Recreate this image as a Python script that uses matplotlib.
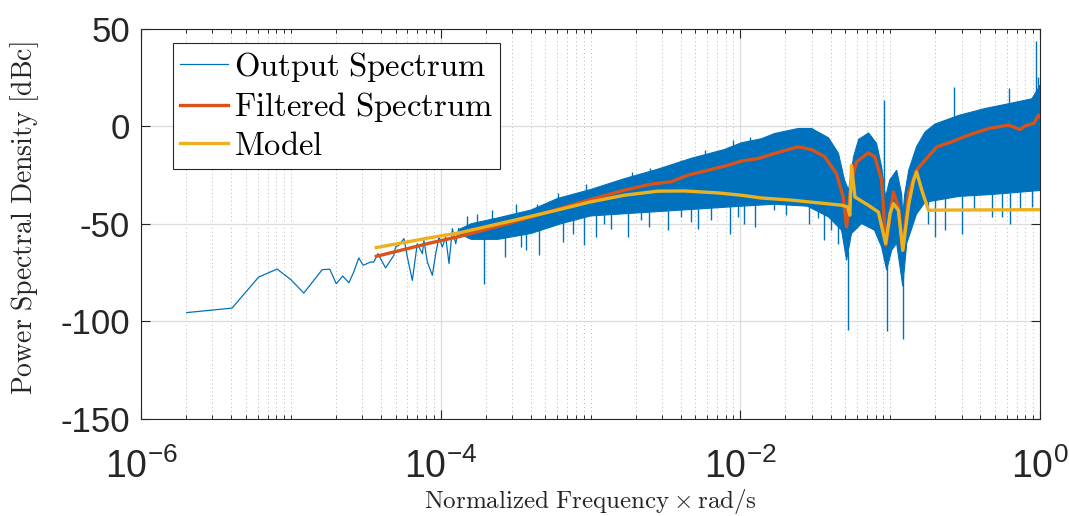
import numpy as np
import matplotlib
matplotlib.use("Agg")
import matplotlib.pyplot as plt
from matplotlib.ticker import FixedLocator, FuncFormatter, NullFormatter

plt.rcParams['font.family'] = ['Liberation Sans', 'DejaVu Sans']
plt.rcParams['mathtext.fontset'] = 'cm'

# ---- Output spectrum, sparse low-frequency bins ----
out_freq = [2.02e-6, 4.05e-6, 6.1e-6, 8.1e-6, 1.0e-5, 1.22e-5, 1.62e-5, 1.82e-5,
            2.01e-5, 2.22e-5, 2.44e-5, 2.63e-5, 2.84e-5, 3.04e-5, 3.40e-5, 3.58e-5,
            3.81e-5, 4.29e-5, 4.87e-5, 5.0e-5, 5.26e-5, 5.69e-5, 5.99e-5, 6.47e-5,
            6.98e-5, 7.55e-5, 7.73e-5, 8.15e-5, 8.8e-5, 9.27e-5, 9.75e-5, 1.026e-4,
            1.08e-4, 1.137e-4, 1.197e-4, 1.26e-4, 1.32e-4]
out_db = [-95.5, -93.2, -77.3, -73.2, -78.6, -85.5, -73.5, -73.3,
          -80.7, -76.8, -80.2, -74.7, -67.5, -71.3, -69.6, -69.6,
          -65.3, -72.6, -66.2, -61.9, -61.0, -57.6, -67.0, -79.0,
          -60.2, -65.3, -58.5, -69.6, -76.4, -65.3, -56.8, -61.9,
          -56.8, -70.4, -52.5, -60.2, -52.5]

# ---- Output spectrum, dense band: upper and lower edges ----
band_hi_freq = [1.32e-4, 1.6e-4, 2.41e-4, 4.0e-4, 6.06e-4, 1.0e-3, 1.67e-3, 2.83e-3,
                4.70e-3, 7.82e-3, 1.02e-2, 1.38e-2, 1.69e-2, 2.44e-2, 2.99e-2, 3.88e-2,
                4.52e-2, 4.96e-2, 5.28e-2, 5.70e-2, 6.16e-2, 7.18e-2, 8.12e-2, 8.77e-2,
                9.33e-2, 9.92e-2, 0.1105, 0.1194, 0.1214, 0.125, 0.133, 0.150,
                0.171, 0.1985, 0.287, 0.4286, 0.620, 0.884, 0.985, 1.0]
band_hi_db = [-53.0, -50.0, -47.0, -43.0, -37.0, -32.5, -27.0, -22.0,
              -16.5, -12.0, -8.5, -6.5, -3.8, -1.2, -1.2, -6.0,
              -14.0, -27.7, -32.8, -15.7, -6.8, -3.5, -8.9, -20.9,
              -36.3, -27.7, -22.6, -35.0, -46.0, -35.0, -22.6, -10.5,
              -3.0, 1.0, 5.5, 9.0, 11.5, 14.0, 20.0, 21.0]

band_lo_freq = [1.32e-4, 1.6e-4, 2.41e-4, 4.0e-4, 6.35e-4, 1.0e-3, 1.02e-2, 1.69e-2,
                2.81e-2, 3.88e-2, 4.74e-2, 5.12e-2, 5.52e-2, 6.45e-2, 7.87e-2, 8.77e-2,
                9.48e-2, 0.1023, 0.1105, 0.1214, 0.129, 0.150, 0.171, 0.287,
                0.4775, 0.985, 1.0]
band_lo_db = [-55.0, -58.0, -58.0, -55.0, -50.0, -46.0, -41.0, -40.0,
              -41.0, -46.5, -53.3, -68.7, -55.0, -49.9, -53.3, -61.9,
              -73.8, -63.6, -60.0, -82.0, -60.0, -45.0, -39.0, -36.0,
              -35.0, -33.0, -33.0]

# isolated excursions below the band
spike_dn_freq = [1.95e-4, 2.68e-4, 3.45e-4, 3.70e-4, 4.55e-4, 6.52e-4, 7.6e-4, 9.05e-4,
                 1.088e-3, 1.237e-3, 1.371e-3, 1.773e-3, 2.177e-3, 2.474e-3, 3.284e-3,
                 4.03e-3, 4.70e-3, 5.21e-3, 6.40e-3, 8.48e-3, 9.65e-3, 1.06e-2, 1.246e-2,
                 1.69e-2, 2.03e-2, 2.89e-2, 3.30e-2, 3.59e-2, 4.04e-2, 4.52e-2,
                 5.20e-2, 9.52e-2, 0.1226, 0.180, 0.1985, 0.231, 0.301, 0.365,
                 0.4775, 0.557, 0.633, 0.738, 0.884]
spike_dn_db = [-80.7, -67.0, -61.9, -63.6, -66.2, -59.3, -55.0, -61.0,
               -56.8, -49.9, -52.5, -56.8, -48.2, -51.6, -53.3,
               -46.5, -49.1, -52.5, -48.2, -55.0, -46.5, -49.9, -51.6,
               -43.1, -45.6, -49.9, -47.3, -58.5, -53.3, -60.2,
               -104.6, -104.9, -108.9, -49.9, -56.8, -53.3, -55.0, -43.1,
               -46.5, -46.5, -49.9, -43.1, -41.4]

# isolated excursions above the band
spike_up_freq = [1.5e-4, 1.75e-4, 2.2e-4, 3.2e-4, 4.4e-4, 6.06e-4, 9.3e-4, 1.9e-3,
                 2.5e-3, 4.0e-3, 5.8e-3, 9.0e-3, 1.16e-2, 9.09e-2, 0.268, 0.622,
                 0.940, 0.965]
spike_up_db = [-46.0, -44.8, -43.1, -39.7, -39.7, -34.5, -29.4, -23.4,
               -21.7, -17.4, -12.3, -7.2, -5.5, 13.3, 20.2, 19.3,
               43.7, 25.0]

# ---- Filtered spectrum ----
filt_freq = [3.72e-5, 8.57e-5, 1.36e-4, 3.09e-4, 1.0e-3, 1.68e-3, 2.54e-3, 3.45e-3,
             4.47e-3, 6.08e-3, 8.28e-3, 1.017e-2, 1.31e-2, 1.69e-2, 2.43e-2, 2.99e-2,
             3.66e-2, 4.38e-2, 4.86e-2, 5.12e-2, 5.52e-2, 5.97e-2, 7.14e-2, 7.90e-2,
             8.77e-2, 9.37e-2, 0.105, 0.1135, 0.1214, 0.1325, 0.150, 0.171,
             0.205, 0.258, 0.333, 0.454, 0.618, 0.738, 0.798, 0.908, 0.979, 1.0]
filt_db = [-66.7, -59.8, -56.4, -49.1, -37.6, -32.8, -29.7, -28.5,
           -25.1, -22.6, -20.0, -17.9, -16.6, -14.0, -10.6, -12.0,
           -15.7, -24.3, -36.3, -51.6, -27.7, -18.3, -13.7, -15.7,
           -27.7, -61.0, -33.7, -41.4, -63.6, -34.5, -22.6, -17.4,
           -10.6, -8.0, -4.6, -1.2, 0.5, -1.7, 0.2, 1.4, 5.6, 4.8]

# ---- Model ----
model_freq = [3.72e-5, 8.57e-5, 1.36e-4, 3.09e-4, 6.0e-4, 1.0e-3, 1.68e-3, 2.81e-3,
              4.24e-3, 7.1e-3, 1.017e-2, 1.38e-2, 2.19e-2, 4.74e-2, 5.2e-2, 5.38e-2,
              5.52e-2, 5.82e-2, 7.14e-2, 8.34e-2, 9.33e-2, 0.0998, 0.105, 0.1135,
              0.1214, 0.133, 0.143, 0.150, 0.163, 0.180, 0.22, 1.0]
model_db = [-62.2, -57.1, -54.5, -48.2, -43.0, -38.8, -35.4, -33.3,
            -33.2, -34.2, -35.4, -36.8, -37.9, -40.5, -41.4, -45.6,
            -20.0, -36.3, -40.5, -44.0, -60.2, -44.8, -39.7, -43.1,
            -63.6, -40.0, -28.0, -23.4, -33.0, -43.1, -43.0, -42.8]

x_major = [1e-6, 1e-4, 1e-2, 1e0]

BLUE = '#0072BD'
RED = '#D95319'
YELLOW = '#EDB120'
INK = '#262626'

fig = plt.figure(figsize=(10.69, 5.16), dpi=100)
ax = fig.add_axes([141 / 1069, 97 / 516, 899 / 1069, 390.5 / 516])

# raw spectrum
ax.plot(out_freq, out_db, color=BLUE, lw=0.9, zorder=3)
poly_f = band_hi_freq + band_lo_freq[::-1]
poly_d = band_hi_db + band_lo_db[::-1]
ax.fill(poly_f, poly_d, facecolor=BLUE, edgecolor=BLUE, lw=0.8, zorder=3)
lo_base = np.interp(np.log10(spike_dn_freq), np.log10(band_lo_freq), band_lo_db)
ax.vlines(spike_dn_freq, spike_dn_db, lo_base + 2, color=BLUE, lw=1.0, zorder=3)
hi_base = np.interp(np.log10(spike_up_freq), np.log10(band_hi_freq), band_hi_db)
ax.vlines(spike_up_freq, hi_base - 2, spike_up_db, color=BLUE, lw=1.0, zorder=3)

ax.plot(filt_freq, filt_db, color=RED, lw=2.4, zorder=4)
ax.plot(model_freq, model_db, color=YELLOW, lw=2.4, zorder=5)

ax.set_xscale('log')
ax.set_xlim(1e-6, 1)
ax.set_ylim(-150, 50)

minor = [k * 10.0 ** e for e in range(-6, 0) for k in range(1, 10)
         if not (k == 1 and 10.0 ** e in x_major)]
ax.xaxis.set_major_locator(FixedLocator(x_major))
ax.xaxis.set_minor_locator(FixedLocator(minor))
ax.xaxis.set_minor_formatter(NullFormatter())
ax.xaxis.set_major_formatter(FuncFormatter(
    lambda v, p: r'$\mathregular{10^{%d}}$' % int(round(np.log10(v)))))
ax.set_yticks([-150, -100, -50, 0, 50])
ax.set_yticklabels(['-150', '-100', '-50', '0', '50'])

ax.grid(True, which='major', color='#dcdcdc', lw=0.9, ls='-')
ax.grid(True, which='minor', axis='x', color='#b8b8b8', lw=0.7, ls=(0, (1, 3)))
ax.set_axisbelow(True)

ax.tick_params(which='both', direction='in', top=True, right=True, colors=INK)
ax.tick_params(which='major', length=6.5, width=0.8)
ax.tick_params(which='minor', length=3.2, width=0.7)
ax.tick_params(axis='y', labelsize=25, pad=8)
ax.tick_params(axis='x', labelsize=27, pad=21)
for s in ax.spines.values():
    s.set_color(INK)
    s.set_linewidth(0.8)

ax.set_xlabel(r'$\mathrm{Normalized\ Frequency}\times\mathrm{rad/s}$', fontsize=18, color=INK)
ax.xaxis.set_label_coords(0.5, -0.212)
ax.xaxis.label.set_va('center')
ax.set_ylabel(r'$\mathrm{Power\ Spectral\ Density\ [dBc]}$', fontsize=20, color=INK)
ax.yaxis.set_label_coords(-0.129, 0.514)
ax.yaxis.label.set_va('center')

h1, = ax.plot([], [], color=BLUE, lw=0.9)
h2, = ax.plot([], [], color=RED, lw=2.4)
h3, = ax.plot([], [], color=YELLOW, lw=2.4)
leg = ax.legend([h1, h2, h3],
                [r'$\mathrm{Output\ Spectrum}$', r'$\mathrm{Filtered\ Spectrum}$', r'$\mathrm{Model}$'],
                loc='upper left', bbox_to_anchor=(0.0356, 0.964), borderaxespad=0,
                fontsize=23.5, frameon=True, fancybox=False, framealpha=1,
                edgecolor=INK, handlelength=1.45, handletextpad=0.2,
                labelspacing=0.2, borderpad=0.22)
leg.get_frame().set_linewidth(0.8)
leg.set_zorder(10)

fig.savefig('out.png', dpi=100)
